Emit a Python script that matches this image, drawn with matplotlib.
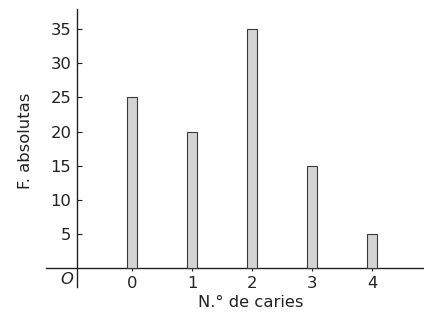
import matplotlib
matplotlib.use("Agg")
import matplotlib.pyplot as plt

# datos: numero de caries y frecuencias absolutas
caries = [0, 1, 2, 3, 4]
frecuencias = [25, 20, 35, 15, 5]
y_ticks = [5, 10, 15, 20, 25, 30, 35]

plt.rcParams["font.family"] = ["DejaVu Sans"]
plt.rcParams["font.size"] = 11.8

fig = plt.figure(figsize=(4.24, 3.15), dpi=100)
ax = fig.add_axes([0.1085, 0.0889, 0.8915, 0.881])

ax.bar(caries, frecuencias, width=0.16, color="#d4d4d4", edgecolor="#3a3a3a", linewidth=0.8, zorder=3)

ax.set_xlim(-1.433, 4.867)
ax.set_ylim(-2.79, 37.9)

# ejes cruzados como en el libro
for side in ("top", "right"):
    ax.spines[side].set_visible(False)
ax.spines["left"].set_position(("data", -0.917))
ax.spines["bottom"].set_position(("data", 0))
for side in ("left", "bottom"):
    ax.spines[side].set_linewidth(1.0)
    ax.spines[side].set_color("#222222")

ax.set_xticks(caries)
ax.set_yticks(y_ticks)
ax.tick_params(axis="y", direction="in", length=3.6, width=0.8, pad=4.0, colors="#222222")
ax.tick_params(axis="x", direction="inout", length=4, width=0.8, pad=3.5, colors="#222222")

ax.text(-1.09, -1.75, "O", style="italic", ha="center", va="center", color="#222222")

ax.set_xlabel("N.° de caries", color="#222222")
ax.xaxis.set_label_coords(0.542, -0.03)
ax.set_ylabel("F. absolutas", color="#222222")
ax.yaxis.set_label_coords(-0.035, 0.527)

fig.savefig("out.png", dpi=100)
